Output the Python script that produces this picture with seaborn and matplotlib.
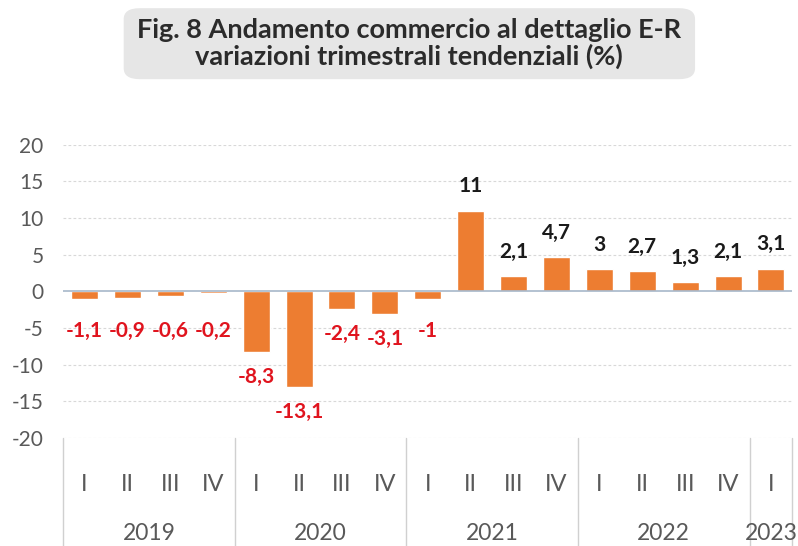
import numpy as np
import pandas as pd
import matplotlib
matplotlib.use("Agg")
import matplotlib.pyplot as plt
import matplotlib.transforms as mtransforms
from matplotlib.patches import FancyBboxPatch
import seaborn as sns

# data
years = ["2019", "2020", "2021", "2022", "2023"]
quarters = ["I", "II", "III", "IV", "I", "II", "III", "IV", "I", "II", "III", "IV",
            "I", "II", "III", "IV", "I"]
quarter_year = ["2019"] * 4 + ["2020"] * 4 + ["2021"] * 4 + ["2022"] * 4 + ["2023"]
values = [-1.1, -0.9, -0.6, -0.2, -8.3, -13.1, -2.4, -3.1, -1.0, 11.0, 2.1, 4.7,
          3.0, 2.7, 1.3, 2.1, 3.1]
labels = ["-1,1", "-0,9", "-0,6", "-0,2", "-8,3", "-13,1", "-2,4", "-3,1", "-1",
          "11", "2,1", "4,7", "3", "2,7", "1,3", "2,1", "3,1"]

df = pd.DataFrame({"key": [f"{y} {q} {i}" for i, (y, q) in enumerate(zip(quarter_year, quarters))],
                   "val": values})

sns.set_style("white")
plt.rcParams["font.family"] = ["Lato", "DejaVu Sans"]

fig = plt.figure(figsize=(7.98, 5.46), dpi=100)
ax = fig.add_axes([0.079, 0.198, 0.914, 0.537])

sns.barplot(data=df, x="key", y="val", color="#ED7D31", saturation=1, width=0.63, ax=ax)

ax.set_ylim(-20, 20)
ax.set_xlim(-0.5, len(values) - 0.5)
ax.set_yticks(np.arange(-20, 21, 5))
ax.set_yticklabels([str(v) for v in range(-20, 21, 5)])
ax.tick_params(axis="y", length=0, pad=14, labelsize=15, labelcolor="#595959")
ax.set_xticks([])
ax.set_xlabel("")
ax.set_ylabel("")
for s in ax.spines.values():
    s.set_visible(False)

for yv in range(-20, 21, 5):
    if yv != 0:
        ax.axhline(yv, color="#d8d8d8", lw=0.8, ls=(0, (2.5, 2)), zorder=0)
ax.axhline(0, color="#a7b7c9", lw=1.2, zorder=3)

# value labels
for i, (v, lab) in enumerate(zip(values, labels)):
    if v >= 0:
        ax.text(i, v + 3.3, lab, ha="center", va="center", fontsize=15,
                fontweight="bold", color="#1a1a1a")
    else:
        ax.text(i, min(v, -2) - 3.4, lab, ha="center", va="center", fontsize=15,
                fontweight="bold", color="#E0141E")

# multi-level category axis
trans = mtransforms.blended_transform_factory(ax.transData, ax.transAxes)
for i, q in enumerate(quarters):
    ax.text(i, -0.16, q, transform=trans, ha="center", va="center",
            fontsize=17, color="#595959")
bounds = [-0.5]
for y in years:
    idx = [i for i, qy in enumerate(quarter_year) if qy == y]
    ax.text(np.mean(idx), -0.325, y, transform=trans, ha="center", va="center",
            fontsize=16.5, color="#595959")
    bounds.append(idx[-1] + 0.5)
for b in bounds:
    ax.plot([b, b], [0, -0.37], transform=trans, color="#d0d0d0", lw=1, clip_on=False)

# title box
box = FancyBboxPatch((0.155, 0.855), 0.716, 0.13, boxstyle="round,pad=0,rounding_size=0.02",
                     transform=fig.transFigure, facecolor="#e6e6e6", edgecolor="none")
fig.patches.append(box)
fig.text(0.513, 0.92, "Fig. 8 Andamento commercio al dettaglio E-R\nvariazioni trimestrali tendenziali (%)",
         ha="center", va="center", fontsize=19.5, fontweight="bold", color="#2b2b2b",
         linespacing=1.05)

fig.savefig("out.png", dpi=100)
